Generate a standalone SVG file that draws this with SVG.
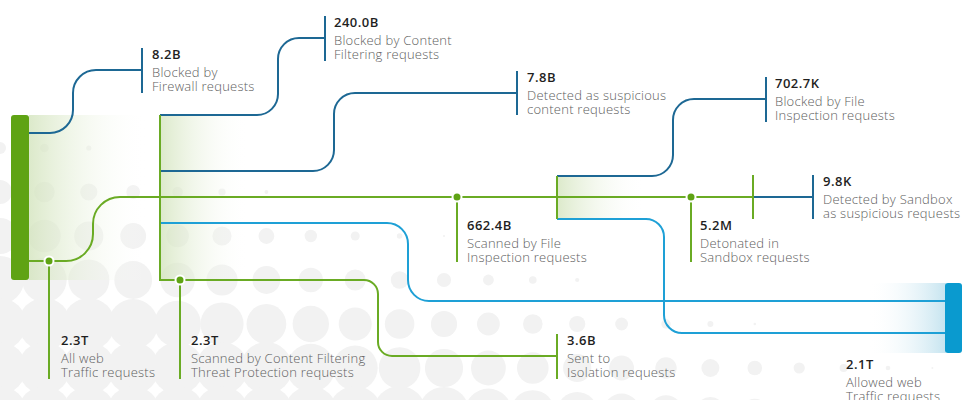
<svg xmlns="http://www.w3.org/2000/svg" width="967" height="400" viewBox="0 0 967 400">
  <style>
    .dot-bg { fill: #f2f2f2; }
    .g { fill: none; stroke: #6aab24; stroke-width: 2; }
    .b { fill: none; stroke: #1d6894; stroke-width: 2; }
    .lb { fill: none; stroke: #1ea0d6; stroke-width: 2; }
    .node-dot { fill: #5fa314; stroke: #ffffff; stroke-width: 2; }
    .num { font-family: "Open Sans", "Liberation Sans", sans-serif; font-size: 13px; font-weight: 600; letter-spacing: 0.5px; fill: #1f1f1f; }
    .lbl { font-family: "Open Sans", "Liberation Sans", sans-serif; font-size: 13px; font-weight: 300; letter-spacing: 0.25px; fill: #606060; }
  </style>
  <defs>
    <linearGradient id="greenFade" x1="0" y1="0" x2="1" y2="0">
      <stop offset="0" stop-color="#d3e4bd" stop-opacity="0.8"/>
      <stop offset="1" stop-color="#ffffff" stop-opacity="0"/>
    </linearGradient>
    <linearGradient id="blueFade" x1="0" y1="0" x2="1" y2="0">
      <stop offset="0" stop-color="#ffffff" stop-opacity="0"/>
      <stop offset="1" stop-color="#bfe1ee" stop-opacity="0.9"/>
    </linearGradient>
  </defs>

  <!-- halftone dot backdrop -->
  <g id="backdrop">
    <circle class="dot-bg" cx="0" cy="148" r="6"/>
    <circle class="dot-bg" cx="44.4" cy="148" r="4.3"/>
    <circle class="dot-bg" cx="88.8" cy="148" r="2.6"/>

    <circle class="dot-bg" cx="0" cy="192" r="12"/>
    <circle class="dot-bg" cx="44.4" cy="192" r="10.3"/>
    <circle class="dot-bg" cx="88.8" cy="192" r="8.6"/>
    <circle class="dot-bg" cx="133.2" cy="192" r="6.9"/>
    <circle class="dot-bg" cx="177.6" cy="192" r="5.3"/>
    <circle class="dot-bg" cx="222" cy="192" r="3.6"/>
    <circle class="dot-bg" cx="266.4" cy="192" r="1.9"/>

    <circle class="dot-bg" cx="0" cy="236" r="18"/>
    <circle class="dot-bg" cx="44.4" cy="236" r="16.3"/>
    <circle class="dot-bg" cx="88.8" cy="236" r="14.6"/>
    <circle class="dot-bg" cx="133.2" cy="236" r="12.9"/>
    <circle class="dot-bg" cx="177.6" cy="236" r="11.3"/>
    <circle class="dot-bg" cx="222" cy="236" r="9.6"/>
    <circle class="dot-bg" cx="266.4" cy="236" r="7.9"/>
    <circle class="dot-bg" cx="310.8" cy="236" r="6.2"/>
    <circle class="dot-bg" cx="355.2" cy="236" r="4.5"/>
    <circle class="dot-bg" cx="399.6" cy="236" r="2.8"/>
    <circle class="dot-bg" cx="444" cy="236" r="1.1"/>

    <circle class="dot-bg" cx="0" cy="280" r="24"/>
    <circle class="dot-bg" cx="44.4" cy="280" r="22.3"/>
    <circle class="dot-bg" cx="88.8" cy="280" r="20.6"/>
    <circle class="dot-bg" cx="133.2" cy="280" r="18.9"/>
    <circle class="dot-bg" cx="177.6" cy="280" r="17.3"/>
    <circle class="dot-bg" cx="222" cy="280" r="15.6"/>
    <circle class="dot-bg" cx="266.4" cy="280" r="13.9"/>
    <circle class="dot-bg" cx="310.8" cy="280" r="12.2"/>
    <circle class="dot-bg" cx="355.2" cy="280" r="10.5"/>
    <circle class="dot-bg" cx="399.6" cy="280" r="8.8"/>
    <circle class="dot-bg" cx="444" cy="280" r="7.1"/>
    <circle class="dot-bg" cx="488.4" cy="280" r="5.4"/>
    <circle class="dot-bg" cx="532.8" cy="280" r="3.8"/>
    <circle class="dot-bg" cx="577.2" cy="280" r="2.1"/>

    <circle class="dot-bg" cx="0" cy="324" r="26"/>
    <circle class="dot-bg" cx="44.4" cy="324" r="26"/>
    <circle class="dot-bg" cx="88.8" cy="324" r="26"/>
    <circle class="dot-bg" cx="133.2" cy="324" r="24.9"/>
    <circle class="dot-bg" cx="177.6" cy="324" r="23.3"/>
    <circle class="dot-bg" cx="222" cy="324" r="21.6"/>
    <circle class="dot-bg" cx="266.4" cy="324" r="19.9"/>
    <circle class="dot-bg" cx="310.8" cy="324" r="18.2"/>
    <circle class="dot-bg" cx="355.2" cy="324" r="16.5"/>
    <circle class="dot-bg" cx="399.6" cy="324" r="14.8"/>
    <circle class="dot-bg" cx="444" cy="324" r="13.1"/>
    <circle class="dot-bg" cx="488.4" cy="324" r="11.4"/>
    <circle class="dot-bg" cx="532.8" cy="324" r="9.8"/>
    <circle class="dot-bg" cx="577.2" cy="324" r="8.1"/>
    <circle class="dot-bg" cx="621.6" cy="324" r="6.4"/>
    <circle class="dot-bg" cx="666" cy="324" r="4.7"/>
    <circle class="dot-bg" cx="710.4" cy="324" r="3"/>
    <circle class="dot-bg" cx="754.8" cy="324" r="1.3"/>

    <circle class="dot-bg" cx="0" cy="368" r="26"/>
    <circle class="dot-bg" cx="44.4" cy="368" r="26"/>
    <circle class="dot-bg" cx="88.8" cy="368" r="26"/>
    <circle class="dot-bg" cx="133.2" cy="368" r="26"/>
    <circle class="dot-bg" cx="177.6" cy="368" r="26"/>
    <circle class="dot-bg" cx="222" cy="368" r="26"/>
    <circle class="dot-bg" cx="266.4" cy="368" r="25.9"/>
    <circle class="dot-bg" cx="310.8" cy="368" r="24.2"/>
    <circle class="dot-bg" cx="355.2" cy="368" r="22.5"/>
    <circle class="dot-bg" cx="399.6" cy="368" r="20.8"/>
    <circle class="dot-bg" cx="444" cy="368" r="19.1"/>
    <circle class="dot-bg" cx="488.4" cy="368" r="17.4"/>
    <circle class="dot-bg" cx="532.8" cy="368" r="15.8"/>
    <circle class="dot-bg" cx="577.2" cy="368" r="14.1"/>
    <circle class="dot-bg" cx="621.6" cy="368" r="12.4"/>
    <circle class="dot-bg" cx="666" cy="368" r="10.7"/>
    <circle class="dot-bg" cx="710.4" cy="368" r="9"/>
    <circle class="dot-bg" cx="754.8" cy="368" r="7.3"/>
    <circle class="dot-bg" cx="799.2" cy="368" r="5.6"/>
    <circle class="dot-bg" cx="843.6" cy="368" r="4"/>
    <circle class="dot-bg" cx="888" cy="368" r="2.3"/>
    <circle class="dot-bg" cx="932.4" cy="368" r="1"/>

    <circle class="dot-bg" cx="0" cy="412" r="26"/>
    <circle class="dot-bg" cx="44.4" cy="412" r="26"/>
    <circle class="dot-bg" cx="88.8" cy="412" r="26"/>
    <circle class="dot-bg" cx="133.2" cy="412" r="26"/>
    <circle class="dot-bg" cx="177.6" cy="412" r="26"/>
    <circle class="dot-bg" cx="222" cy="412" r="26"/>
    <circle class="dot-bg" cx="266.4" cy="412" r="26"/>
    <circle class="dot-bg" cx="310.8" cy="412" r="26"/>
    <circle class="dot-bg" cx="355.2" cy="412" r="26"/>
    <circle class="dot-bg" cx="399.6" cy="412" r="26"/>
    <circle class="dot-bg" cx="444" cy="412" r="25.1"/>
    <circle class="dot-bg" cx="488.4" cy="412" r="23.4"/>
    <circle class="dot-bg" cx="532.8" cy="412" r="21.8"/>
    <circle class="dot-bg" cx="577.2" cy="412" r="20.1"/>
    <circle class="dot-bg" cx="621.6" cy="412" r="18.4"/>
    <circle class="dot-bg" cx="666" cy="412" r="16.7"/>
    <circle class="dot-bg" cx="710.4" cy="412" r="15"/>
    <circle class="dot-bg" cx="754.8" cy="412" r="13.3"/>
    <circle class="dot-bg" cx="799.2" cy="412" r="11.6"/>
    <circle class="dot-bg" cx="843.6" cy="412" r="9.9"/>
    <circle class="dot-bg" cx="888" cy="412" r="8.3"/>
    <circle class="dot-bg" cx="932.4" cy="412" r="6.6"/>
  </g>

  <!-- fading panels behind the split points -->
  <g id="panels">
    <rect x="29" y="115" width="118" height="165" fill="url(#greenFade)"/>
    <rect x="160" y="115" width="88" height="165" fill="url(#greenFade)"/>
    <rect x="557" y="176" width="88" height="43" fill="url(#greenFade)"/>
    <rect x="868" y="283" width="78" height="70" fill="url(#blueFade)"/>
  </g>

  <g id="connectors">
    <!-- blocked flows -->
    <path class="b" d="M28,133 H50 A23,23 0 0 0 73,110 V93 A23,23 0 0 1 96,70 H142"/>
    <path class="b" d="M160,115 H257 A21,21 0 0 0 278,94 V59 A21,21 0 0 1 299,38 H325"/>
    <path class="b" d="M160,171 H313 A21,21 0 0 0 334,150 V114 A21,21 0 0 1 355,93 H517"/>
    <path class="b" d="M557,176 H652 A21,21 0 0 0 673,155 V120 A21,21 0 0 1 694,99 H766"/>
    <path class="b" d="M753,197 H813"/>
    <!-- allowed flows -->
    <path class="lb" d="M160,223 H387 A21,21 0 0 1 408,244 V280 A21,21 0 0 0 429,301 H946"/>
    <path class="lb" d="M557,219 H646 A18,18 0 0 1 664,237 V315 A18,18 0 0 0 682,333 H946"/>
    <!-- main scanned flow -->
    <path class="g" d="M28,261 H66 A27,27 0 0 0 93,234 V224 A27,27 0 0 1 120,197 H753"/>
    <path class="g" d="M160,115 V280 H364 A14,14 0 0 1 378,294 V342 A14,14 0 0 0 392,356 H557"/>
    <path class="g" d="M557,176 V219"/>
    <!-- label leaders -->
    <path class="g" d="M49,261 V379"/>
    <path class="g" d="M180,280 V379"/>
    <path class="g" d="M457,197 V262"/>
    <path class="g" d="M691,197 V262"/>
  </g>

  <g id="node-all-web">
    <rect x="11" y="115" width="18" height="165" rx="3" fill="#5fa314"/>
    <circle class="node-dot" cx="49" cy="261" r="4.5"/>
    <text class="num" x="61" y="345">2.3T</text>
    <text class="lbl" x="61" y="363">All web</text>
    <text class="lbl" x="61" y="377">Traffic requests</text>
  </g>

  <g id="node-firewall">
    <path class="b" d="M142,48 V93"/>
    <text class="num" x="152" y="59">8.2B</text>
    <text class="lbl" x="152" y="77">Blocked by</text>
    <text class="lbl" x="152" y="91">Firewall requests</text>
  </g>

  <g id="node-content-blocked">
    <path class="b" d="M325,16 V61"/>
    <text class="num" x="334" y="27">240.0B</text>
    <text class="lbl" x="334" y="45">Blocked by Content</text>
    <text class="lbl" x="334" y="59">Filtering requests</text>
  </g>

  <g id="node-suspicious-content">
    <path class="b" d="M517,71 V115"/>
    <text class="num" x="527" y="82">7.8B</text>
    <text class="lbl" x="527" y="100">Detected as suspicious</text>
    <text class="lbl" x="527" y="114">content requests</text>
  </g>

  <g id="node-file-blocked">
    <path class="b" d="M766,77 V122"/>
    <text class="num" x="775" y="88">702.7K</text>
    <text class="lbl" x="775" y="106">Blocked by File</text>
    <text class="lbl" x="775" y="120">Inspection requests</text>
  </g>

  <g id="node-sandbox-detected">
    <path class="g" d="M753,175 V219"/>
    <path class="b" d="M813,175 V219"/>
    <text class="num" x="823" y="186">9.8K</text>
    <text class="lbl" x="823" y="204">Detected by Sandbox</text>
    <text class="lbl" x="823" y="218">as suspicious requests</text>
  </g>

  <g id="node-content-scanned">
    <circle class="node-dot" cx="180" cy="280" r="4.5"/>
    <text class="num" x="191" y="345">2.3T</text>
    <text class="lbl" x="191" y="363">Scanned by Content Filtering</text>
    <text class="lbl" x="191" y="377">Threat Protection requests</text>
  </g>

  <g id="node-file-scanned">
    <circle class="node-dot" cx="457" cy="197" r="4.5"/>
    <text class="num" x="467" y="230">662.4B</text>
    <text class="lbl" x="467" y="248">Scanned by File</text>
    <text class="lbl" x="467" y="262">Inspection requests</text>
  </g>

  <g id="node-sandbox">
    <circle class="node-dot" cx="691" cy="197" r="4.5"/>
    <text class="num" x="700" y="230">5.2M</text>
    <text class="lbl" x="700" y="248">Detonated in</text>
    <text class="lbl" x="700" y="262">Sandbox requests</text>
  </g>

  <g id="node-isolation">
    <path class="g" d="M557,334 V379"/>
    <text class="num" x="567" y="345">3.6B</text>
    <text class="lbl" x="567" y="363">Sent to</text>
    <text class="lbl" x="567" y="377">Isolation requests</text>
  </g>

  <g id="node-allowed">
    <rect x="945" y="283" width="17" height="70" rx="3" fill="#0a9acf"/>
    <text class="num" x="846" y="369">2.1T</text>
    <text class="lbl" x="846" y="387">Allowed web</text>
    <text class="lbl" x="846" y="401">Traffic requests</text>
  </g>
</svg>
